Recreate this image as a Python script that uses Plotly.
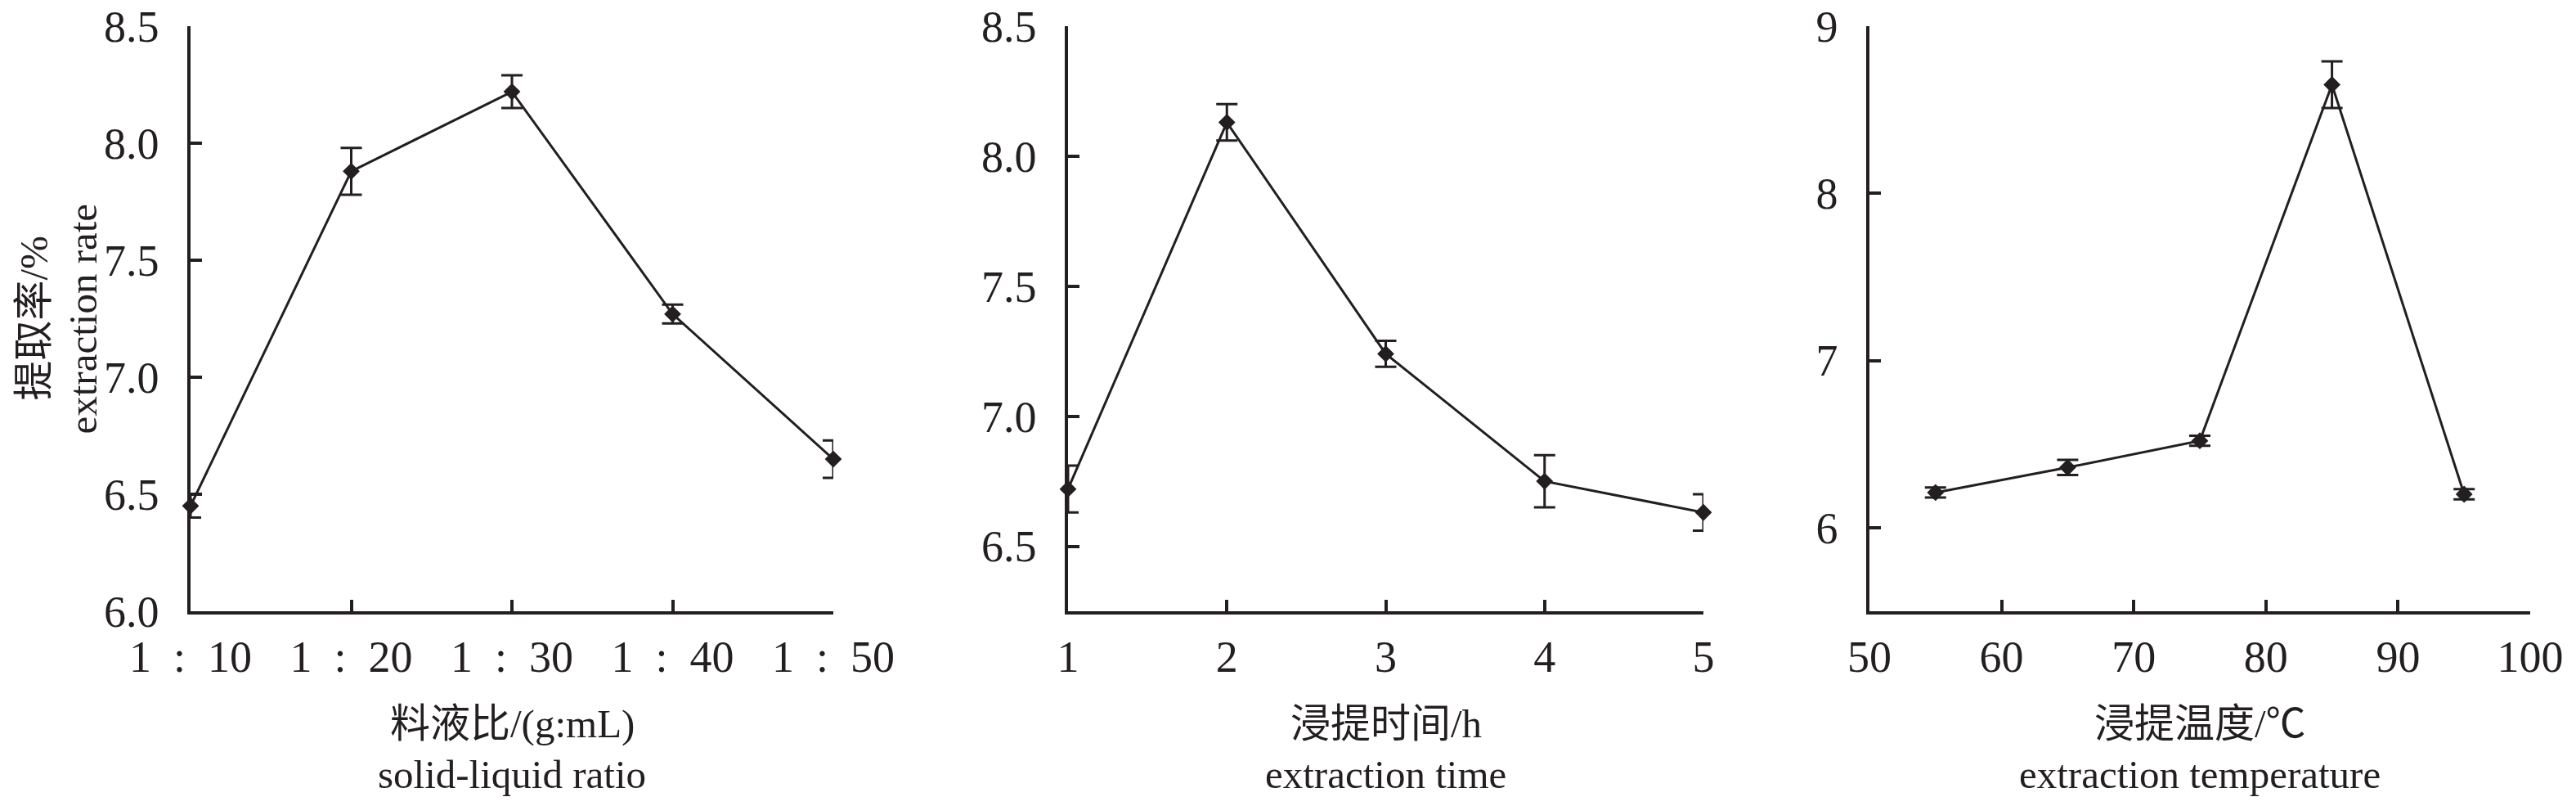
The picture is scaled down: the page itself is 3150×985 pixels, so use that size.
import plotly.graph_objects as go

# ---- data ----
ratio_x = [10, 20, 30, 40, 50]
ratio_labels = ["1\u00a0\u00a0:\u00a0\u00a010", "1\u00a0\u00a0:\u00a0\u00a020", "1\u00a0\u00a0:\u00a0\u00a030",
                "1\u00a0\u00a0:\u00a0\u00a040", "1\u00a0\u00a0:\u00a0\u00a050"]
ratio_y = [6.45, 7.88, 8.22, 7.27, 6.65]
ratio_err = [0.05, 0.10, 0.07, 0.04, 0.08]

time_x = [1, 2, 3, 4, 5]
time_y = [6.72, 8.13, 7.24, 6.75, 6.63]
time_err = [0.09, 0.07, 0.05, 0.10, 0.07]

temp_x = [55, 65, 75, 85, 95]
temp_y = [6.21, 6.36, 6.52, 8.65, 6.20]
temp_err = [0.03, 0.045, 0.03, 0.14, 0.03]

xtitles_cn = ["料液比/(g:mL)", "浸提时间/h", "浸提温度/℃"]
xtitles_en = ["solid-liquid ratio", "extraction time", "extraction temperature"]
ytitle_cn = "提取率/%"
ytitle_en = "extraction rate"

FONT = "Liberation Serif, Times New Roman, Noto Sans CJK SC, serif"
INK = "#231f20"
W, H = 3150, 985

def px_x(a, b):
    return [a / W, b / W]

ydom = [1 - 747 / H, 1 - 32 / H]
doms = [px_x(233, 1019), px_x(1306, 2083), px_x(2286, 3094)]

fig = go.Figure()

series = [
    (ratio_x, ratio_y, ratio_err),
    (time_x, time_y, time_err),
    (temp_x, temp_y, temp_err),
]
for i, (xs, ys, es) in enumerate(series):
    sfx = "" if i == 0 else str(i + 1)
    fig.add_trace(go.Scatter(
        x=xs, y=ys, mode="lines+markers",
        xaxis="x" + sfx, yaxis="y" + sfx,
        line=dict(color=INK, width=3),
        marker=dict(symbol="diamond", size=16, color=INK),
        error_y=dict(type="data", array=es, visible=True, color=INK, thickness=3, width=13),
        cliponaxis=False, showlegend=False,
    ))

axis_common = dict(
    showline=True, linecolor=INK, linewidth=3.5, mirror=False,
    ticks="inside", tickcolor=INK, tickwidth=3.5, ticklen=14,
    showgrid=False, zeroline=False, automargin=False,
    tickfont=dict(family=FONT, size=54, color=INK),
)

yranges = [[6.0, 8.5], [6.25, 8.5], [5.5, 9.0]]
yticks = [[6.0, 6.5, 7.0, 7.5, 8.0, 8.5], [6.5, 7.0, 7.5, 8.0, 8.5], [6, 7, 8, 9]]
yfmt = [".1f", ".1f", "d"]
xranges = [[10, 50], [1, 5], [50, 100]]
xtickvals = [ratio_x, time_x, [50, 60, 70, 80, 90, 100]]
xticktext = [ratio_labels, [str(v) for v in time_x], ["50", "60", "70", "80", "90", "100"]]

layout = dict(
    width=W, height=H,
    margin=dict(l=0, r=0, t=0, b=0, pad=0, autoexpand=False),
    paper_bgcolor="white", plot_bgcolor="white",
    font=dict(family=FONT, color=INK),
)
for i in range(3):
    sfx = "" if i == 0 else str(i + 1)
    layout["xaxis" + sfx] = dict(
        axis_common, domain=doms[i], range=xranges[i], anchor="y" + sfx,
        tickmode="array", tickvals=xtickvals[i], ticktext=xticktext[i],
        ticklabelstandoff=5,
    )
    layout["yaxis" + sfx] = dict(
        axis_common, domain=ydom, range=yranges[i], anchor="x" + sfx,
        tickmode="array", tickvals=yticks[i], tickformat=yfmt[i],
        ticklabelstandoff=24,
    )
fig.update_layout(**layout)

for i in range(3):
    xc = (doms[i][0] + doms[i][1]) / 2
    fig.add_annotation(
        xref="paper", yref="paper", x=xc, y=1 - 884 / H,
        text=xtitles_cn[i], showarrow=False, xanchor="center", yanchor="middle",
        font=dict(family=FONT, size=49, color=INK),
    )
    fig.add_annotation(
        xref="paper", yref="paper", x=xc, y=1 - 946 / H,
        text=xtitles_en[i], showarrow=False, xanchor="center", yanchor="middle",
        font=dict(family=FONT, size=49, color=INK),
    )
yc = (ydom[0] + ydom[1]) / 2
fig.add_annotation(
    xref="paper", yref="paper", x=41 / W, y=yc,
    text=ytitle_cn, textangle=-90, showarrow=False,
    xanchor="center", yanchor="middle",
    font=dict(family=FONT, size=49, color=INK),
)
fig.add_annotation(
    xref="paper", yref="paper", x=101 / W, y=yc,
    text=ytitle_en, textangle=-90, showarrow=False,
    xanchor="center", yanchor="middle",
    font=dict(family=FONT, size=49, color=INK),
)

fig.write_html(
    "out.html",
    config={"displayModeBar": False},
    post_script="document.body.style.margin='0';document.body.style.overflow='hidden';",
)
